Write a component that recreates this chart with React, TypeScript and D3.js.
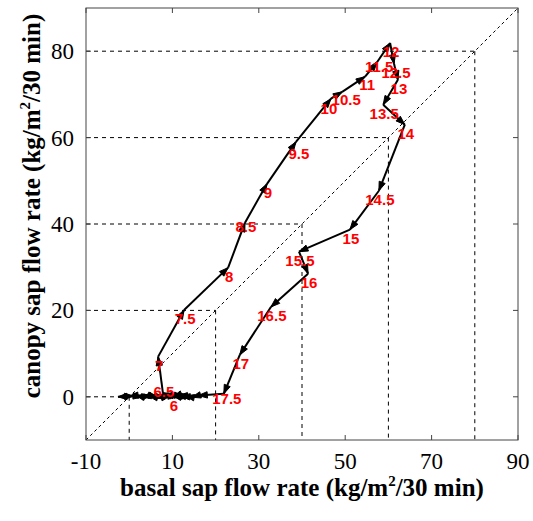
import React from "react";
import * as d3 from "d3";

// half-hour times (hours of day)
const times = [
  0, 0.5, 1, 1.5, 2, 2.5, 3, 3.5, 4, 4.5, 5, 5.5,
  6, 6.5, 7, 7.5, 8, 8.5, 9, 9.5, 10, 10.5, 11, 11.5,
  12, 12.5, 13, 13.5, 14, 14.5, 15, 15.5, 16, 16.5, 17, 17.5,
  18, 18.5, 19, 19.5, 20, 20.5, 21, 21.5, 22, 22.5, 23, 23.5,
];
// basal sap flow rate (kg/m2/30 min)
const basal = [
  -1.0, 1.0, 3.0, 5.0, 6.5, 8.0, 9.5, 11.0, 12.5, 14.0, 12.0, 11.0,
  10.1, 7.8, 6.7, 12.7, 22.9, 26.8, 31.9, 38.6, 46.7, 49.3, 54.6, 57.4,
  60.4, 61.3, 62.2, 58.8, 63.8, 57.8, 51.1, 39.3, 41.4, 32.8, 25.6, 21.9,
  16.0, 14.5, 13.0, 11.5, 10.0, 8.0, 6.0, 4.5, 3.0, 1.5, 0.0, -2.6,
];
// canopy sap flow rate (kg/m2/30 min)
const canopy = [
  0.1, 0.2, 0.0, 0.3, 0.1, -0.1, 0.2, 0.3, 0.1, 0.0, 0.2, 0.3,
  0.0, 0.9, 9.3, 20.1, 29.9, 40.3, 49.3, 59.0, 69.0, 70.6, 74.1, 77.5,
  81.9, 77.1, 73.4, 67.6, 63.0, 47.7, 38.7, 33.6, 28.5, 20.8, 9.7, 0.7,
  0.3, -0.1, 0.2, 0.0, 0.3, 0.1, -0.1, 0.2, 0.0, 0.3, 0.1, 0.0,
];
// times that carry a label
const labelledFrom = 6;
const labelledTo = 17.5;

const xTicks = [-10, 10, 30, 50, 70, 90];
const yTicks = [0, 20, 40, 60, 80];
const guideLevels = [0, 20, 40, 60, 80];

const labelNudge: Record<string, [number, number]> = {
  "6.5": [0, -10],
  "11.5": [1, -4],
  "11": [1, -1],
  "10.5": [3, -1],
  "10": [-3, 1],
  "9.5": [2, 3],
  "8.5": [0, -5],
  "12.5": [1, 0],
  "17.5": [2, -4],
};

export default function App() {
  const W = 533;
  const H = 521;
  const x = d3.scaleLinear().domain([-10, 90]).range([86, 518]);
  const y = d3.scaleLinear().domain([-10, 90]).range([440, 8]);
  const pts = times.map((t, i) => ({ t, px: x(basal[i]), py: y(canopy[i]) }));

  const segs = [];
  for (let i = 0; i < pts.length - 1; i++) {
    const a = pts[i];
    const b = pts[i + 1];
    const dx = b.px - a.px;
    const dy = b.py - a.py;
    const len = Math.hypot(dx, dy) || 1;
    const ux = dx / len;
    const uy = dy / len;
    const L = 9;
    const hw = 3.2;
    const bx = b.px - ux * L;
    const by = b.py - uy * L;
    const head = `${b.px},${b.py} ${bx - uy * hw},${by + ux * hw} ${bx + uy * hw},${by - ux * hw}`;
    segs.push(
      <g key={i}>
        <line x1={a.px} y1={a.py} x2={b.px} y2={b.py} stroke="#000" strokeWidth={2} />
        <polygon points={head} fill="#000" stroke="#000" strokeWidth={1} />
      </g>
    );
  }

  const line = d3.line<[number, number]>();
  const serif = "'Liberation Serif', 'Times New Roman', serif";

  return (
    <svg width={W} height={H} style={{ position: "absolute", left: 0, top: 0 }}>
      <rect x={0} y={0} width={W} height={H} fill="#fff" />
      {/* 1:1 line */}
      <path
        d={line([[x(-10), y(-10)], [x(90), y(90)]]) || ""}
        stroke="#000"
        strokeWidth={1}
        strokeDasharray="3,3"
        fill="none"
      />
      {/* guide lines */}
      {guideLevels.map((v) => (
        <g key={v}>
          <line x1={x(-10)} y1={y(v)} x2={x(v)} y2={y(v)} stroke="#000" strokeWidth={1} strokeDasharray="4,4" />
          <line x1={x(v)} y1={y(v)} x2={x(v)} y2={y(-10)} stroke="#000" strokeWidth={1} strokeDasharray="4,4" />
        </g>
      ))}
      {/* frame */}
      <rect x={86} y={8} width={432} height={432} fill="none" stroke="#444" strokeWidth={1} />
      {xTicks.map((v) => (
        <g key={"xt" + v}>
          <line x1={x(v)} x2={x(v)} y1={y(-10)} y2={y(-10) - 5} stroke="#444" />
          <line x1={x(v)} x2={x(v)} y1={y(90)} y2={y(90) + 5} stroke="#444" />
          <text x={x(v)} y={469} textAnchor="middle" fontFamily={serif} fontSize={23}>
            {v}
          </text>
        </g>
      ))}
      {yTicks.map((v) => (
        <g key={"yt" + v}>
          <line x1={x(-10)} x2={x(-10) + 5} y1={y(v)} y2={y(v)} stroke="#444" />
          <line x1={x(90)} x2={x(90) - 5} y1={y(v)} y2={y(v)} stroke="#444" />
          <text x={74} y={y(v)} dy="0.35em" textAnchor="end" fontFamily={serif} fontSize={23}>
            {v}
          </text>
        </g>
      ))}
      {segs}
      {pts
        .filter((p) => p.t >= labelledFrom && p.t <= labelledTo)
        .map((p) => {
          const key = String(p.t);
          const n = labelNudge[key] || [0, 0];
          return (
            <text
              key={"l" + key}
              x={p.px + 1 + n[0]}
              y={p.py + 14 + n[1]}
              textAnchor="middle"
              fontFamily="'Liberation Sans', Arial, sans-serif"
              fontWeight="bold"
              fontSize={15}
              fill="#ff0000"
            >
              {key}
            </text>
          );
        })}
      <text x={302} y={496} textAnchor="middle" fontFamily={serif} fontWeight="bold" fontSize={25}>
        basal sap flow rate (kg/m<tspan fontSize={15} dy={-10}>2</tspan>
        <tspan dy={10}>/30 min)</tspan>
      </text>
      <text
        transform="translate(40,206) rotate(-90)"
        textAnchor="middle"
        fontFamily={serif}
        fontWeight="bold"
        fontSize={25}
      >
        canopy sap flow rate (kg/m<tspan fontSize={15} dy={-10}>2</tspan>
        <tspan dy={10}>/30 min)</tspan>
      </text>
    </svg>
  );
}
